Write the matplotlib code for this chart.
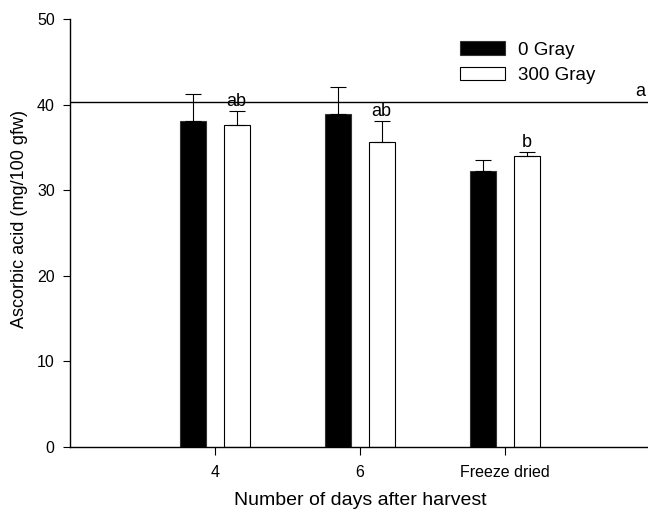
import numpy as np
import matplotlib
matplotlib.use("Agg")
import matplotlib.pyplot as plt

plt.rcParams['font.family'] = ['Liberation Sans', 'DejaVu Sans']

categories = ["4", "6", "Freeze dried"]
gray0 = [38.1, 38.9, 32.3]
gray0_err = [3.2, 3.2, 1.2]
gray300 = [37.6, 35.6, 34.0]
gray300_err = [1.7, 2.5, 0.5]
letters = ["ab", "ab", "b"]
ref_value = 40.3
ref_letter = "a"

fig = plt.figure(figsize=(6.48, 5.16), dpi=100)
ax = fig.add_axes([0.108, 0.134, 0.895, 0.829])

x = np.arange(1, len(categories) + 1)
w = 0.18
off = 0.15

ax.bar(x - off, gray0, w, color="black", edgecolor="#333333", linewidth=0.8,
       label="0 Gray", zorder=2)
ax.bar(x + off, gray300, w, color="white", edgecolor="black", linewidth=0.8,
       label="300 Gray", zorder=2)
ax.errorbar(x - off, gray0, yerr=[np.zeros(3), gray0_err], fmt="none",
            ecolor="black", elinewidth=0.8, capsize=5.5, capthick=0.8, zorder=3)
ax.errorbar(x + off, gray300, yerr=[np.zeros(3), gray300_err], fmt="none",
            ecolor="black", elinewidth=0.8, capsize=5.5, capthick=0.8, zorder=3)

for xi, v, e, t in zip(x + off, gray300, gray300_err, letters):
    ax.text(xi, v + e + 0.1, t, ha="center", va="bottom", fontsize=13)

ax.axhline(ref_value, color="black", linewidth=1, zorder=1)
ax.text(3.93, ref_value + 0.3, ref_letter, ha="center", va="bottom", fontsize=13)

ax.set_xlim(0, 4)
ax.set_ylim(0, 50)
ax.set_xticks(x)
ax.set_xticklabels(categories)
ax.set_yticks(np.arange(0, 51, 10))
ax.tick_params(axis="both", labelsize=11.5, direction="out", width=0.8)
ax.tick_params(axis="y", length=5, pad=6)
ax.tick_params(axis="x", length=6, pad=7)

for s in ["top", "right"]:
    ax.spines[s].set_visible(False)
for s in ["left", "bottom"]:
    ax.spines[s].set_linewidth(1)

ax.set_xlabel("Number of days after harvest", fontsize=14, labelpad=9)
ax.set_ylabel("Ascorbic acid (mg/100 gfw)", fontsize=13)
ax.yaxis.set_label_coords(-0.072, 0.533)

ax.legend(loc="upper left", bbox_to_anchor=(0.672, 0.948), frameon=False,
          fontsize=13.5, handlelength=2.4, handleheight=0.72, labelspacing=0.45,
          handletextpad=0.69, borderpad=0, borderaxespad=0)

fig.savefig("out.png", dpi=100)
